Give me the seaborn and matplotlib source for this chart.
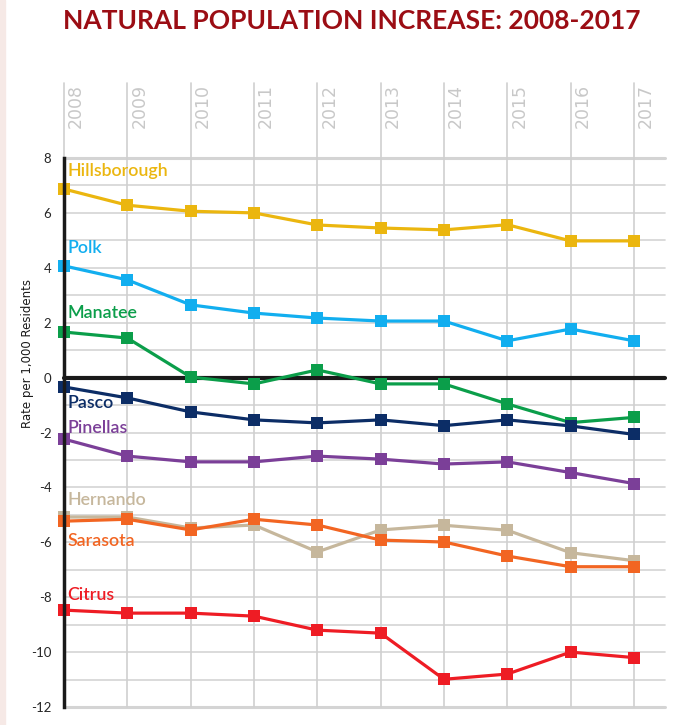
import pandas as pd
import seaborn as sns
import matplotlib.pyplot as plt
from matplotlib.patches import Rectangle

years = list(range(2008, 2018))

hillsborough = [6.87, 6.28, 6.06, 6.0, 5.56, 5.45, 5.38, 5.57, 4.98, 4.98]
polk = [4.07, 3.56, 2.65, 2.35, 2.17, 2.06, 2.06, 1.34, 1.77, 1.34]
manatee = [1.66, 1.44, 0.02, -0.23, 0.28, -0.23, -0.23, -0.96, -1.64, -1.45]
pasco = [-0.34, -0.74, -1.25, -1.54, -1.65, -1.54, -1.75, -1.54, -1.76, -2.07]
pinellas = [-2.24, -2.86, -3.07, -3.07, -2.86, -2.97, -3.15, -3.07, -3.46, -3.86]
hernando = [-5.08, -5.08, -5.48, -5.37, -6.35, -5.55, -5.38, -5.56, -6.38, -6.67]
sarasota = [-5.23, -5.16, -5.55, -5.16, -5.37, -5.92, -5.99, -6.5, -6.89, -6.89]
citrus = [-8.47, -8.58, -8.58, -8.69, -9.2, -9.31, -10.99, -10.8, -10.0, -10.2]

counties = ["Hillsborough", "Polk", "Manatee", "Pasco", "Pinellas",
            "Hernando", "Sarasota", "Citrus"]
series = [hillsborough, polk, manatee, pasco, pinellas, hernando, sarasota, citrus]
colors = ["#EBB60F", "#12AEEF", "#0B9E4A", "#0C2D66", "#7B3F98",
          "#C6B79C", "#F26522", "#EE1C24"]
label_y = [7.53, 4.72, 2.35, -0.93, -1.84, -4.46, -5.95, -7.92]

df = pd.DataFrame({
    "year": years * len(counties),
    "rate": [v for s in series for v in s],
    "county": [c for c in counties for _ in years],
})

sns.set_style("white")
narrow = ["Lato", "DejaVu Sans"]

fig = plt.figure(figsize=(6.73, 7.25), dpi=100)
fig.patches.append(Rectangle((0, 0), 5 / 673, 1, transform=fig.transFigure,
                             color="#f6e9e6", zorder=0))
ax = fig.add_axes([64 / 673, 18 / 725, 601 / 673, 549 / 725])

# grid
for yv in range(-11, 8):
    ax.axhline(yv, color="#d4d4d4", lw=1.2, zorder=0)
ax.axhline(8, color="#d4d4d4", lw=2.2, zorder=0, clip_on=False)
ax.axhline(-12, color="#d4d4d4", lw=2.2, zorder=0, clip_on=False)
top_ext = 1 + 75 / 549
for yr in years:
    ax.axvline(yr, ymin=0, ymax=top_ext, color="#d0d0d0", lw=1.2, zorder=0,
               clip_on=False)
    ax.text(yr + 0.05, 1 + 30 / 549, str(yr), transform=ax.get_xaxis_transform(),
            rotation=90, ha="left", va="bottom", fontsize=12.5, color="#c8c8c8",
            family="DejaVu Sans")
ax.axhline(0, color="#1a1a1a", lw=3, zorder=2)

sns.lineplot(data=df, x="year", y="rate", hue="county", hue_order=counties,
             palette=colors, marker="s", markersize=8, markeredgewidth=0,
             linewidth=2.3, legend=False, ax=ax, zorder=3)
for line in ax.lines:
    line.set_clip_on(False)

for name, c, ly in zip(counties, colors, label_y):
    ax.text(2008.05, ly, name, color=c, fontsize=12.8, family=narrow,
            fontweight="semibold", ha="left", va="center", zorder=4)

ax.set_xlim(2008, 2017.49)
ax.set_ylim(-12, 8)
ax.set_yticks(range(-12, 9, 2))
ax.set_yticklabels([str(v) for v in range(-12, 9, 2)], family=narrow, fontsize=9.5)
ax.set_xticks([])
ax.tick_params(axis="y", length=0, pad=9)
ax.set_xlabel("")
ax.set_ylabel("")
for s in ["top", "right", "bottom"]:
    ax.spines[s].set_visible(False)
ax.spines["left"].set_color("#1a1a1a")
ax.spines["left"].set_linewidth(2.5)
ax.spines["left"].set_zorder(5)

fig.text(28 / 673, 1 - 353 / 725, "Rate per 1,000 Residents", rotation=90,
         ha="center", va="center", fontsize=8.5, color="#1a1a1a")
fig.text(352 / 673, 1 - 21 / 725, "NATURAL POPULATION INCREASE: 2008-2017",
         ha="center", va="center", fontsize=19, fontweight="bold",
         color="#9b0d14", family=narrow)

fig.savefig("out.png", dpi=100)
